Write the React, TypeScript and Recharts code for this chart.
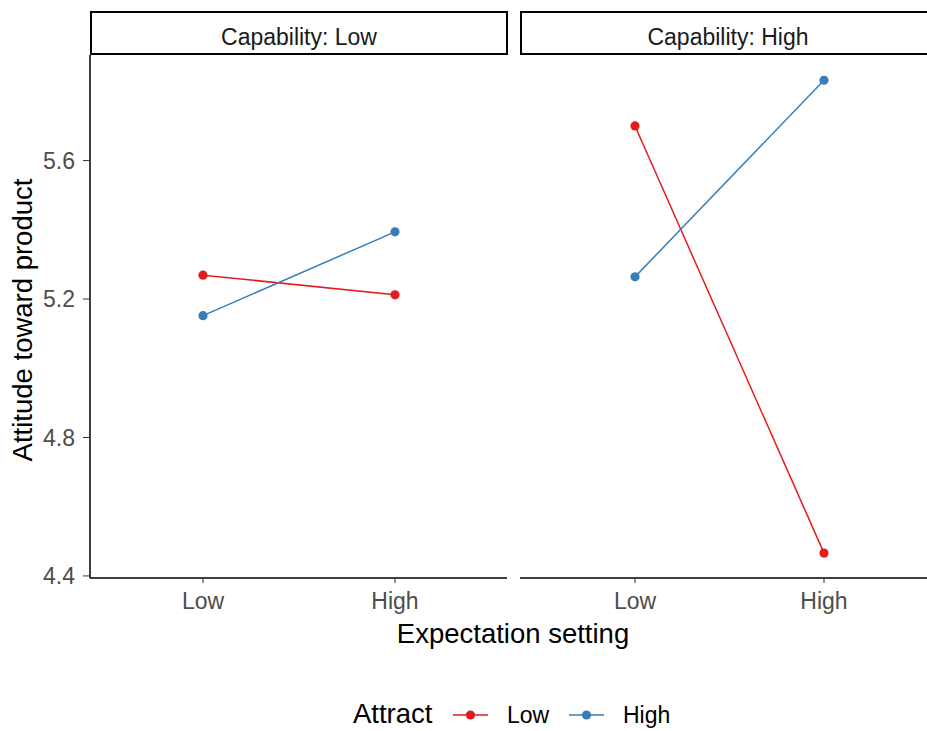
import React from "react";
import { Line, LineChart, XAxis, YAxis } from "recharts";

// categories
const SETTINGS = ["Low", "High"];
const ATTRACT = ["Low", "High"];
const Y_TICKS = [4.4, 4.8, 5.2, 5.6];

// Capability: Low panel
const CAPLOW_ATTRACT_LOW = [5.269, 5.212];
const CAPLOW_ATTRACT_HIGH = [5.152, 5.394];

// Capability: High panel
const CAPHIGH_ATTRACT_LOW = [5.7, 4.466];
const CAPHIGH_ATTRACT_HIGH = [5.264, 5.832];

const RED = "#E41A1C";
const BLUE = "#377EB8";
const FONT = '"Liberation Sans", Arial, sans-serif';
const Y_DOMAIN: [number, number] = [4.394, 5.905];

const buildRows = (low: number[], high: number[]) =>
  SETTINGS.map((s, i) => ({ setting: s, low: low[i], high: high[i] }));

const tickStyle = { fill: "#4d4d4d", fontSize: 23, fontFamily: FONT };

function Panel({
  rows,
  showY,
  width,
  padding,
}: {
  rows: { setting: string; low: number; high: number }[];
  showY: boolean;
  width: number;
  padding: { left: number; right: number };
}) {
  return (
    <LineChart
      width={width}
      height={620}
      data={rows}
      margin={{ top: 55, right: 0, left: 0, bottom: 0 }}
    >
      <XAxis
        dataKey="setting"
        interval={0}
        padding={padding}
        height={42}
        tick={tickStyle}
        tickSize={5}
        tickMargin={10}
        tickLine={{ stroke: "#333" }}
        axisLine={{ stroke: "#000", strokeWidth: 1.5 }}
      />
      <YAxis
        hide={!showY}
        width={90}
        domain={Y_DOMAIN}
        ticks={Y_TICKS}
        allowDataOverflow
        tickFormatter={(v: number) => v.toFixed(1)}
        tick={tickStyle}
        tickSize={7}
        tickMargin={8}
        tickLine={{ stroke: "#333" }}
        axisLine={{ stroke: "#000", strokeWidth: 1.5 }}
      />
      <Line
        dataKey="low"
        stroke={RED}
        strokeWidth={1.5}
        dot={{ r: 4.6, fill: RED, stroke: RED, strokeWidth: 0 }}
        activeDot={false}
        isAnimationActive={false}
      />
      <Line
        dataKey="high"
        stroke={BLUE}
        strokeWidth={1.5}
        dot={{ r: 4.6, fill: BLUE, stroke: BLUE, strokeWidth: 0 }}
        activeDot={false}
        isAnimationActive={false}
      />
    </LineChart>
  );
}

export default function App() {
  return (
    <div
      style={{
        position: "absolute",
        left: 0,
        top: 0,
        width: 927,
        height: 731,
        background: "#fff",
        overflow: "hidden",
        fontFamily: FONT,
      }}
    >
      <div style={{ position: "absolute", left: 0, top: 0 }}>
        <Panel
          rows={buildRows(CAPLOW_ATTRACT_LOW, CAPLOW_ATTRACT_HIGH)}
          showY
          width={507}
          padding={{ left: 113, right: 112 }}
        />
      </div>
      <div style={{ position: "absolute", left: 520, top: 0 }}>
        <Panel
          rows={buildRows(CAPHIGH_ATTRACT_LOW, CAPHIGH_ATTRACT_HIGH)}
          showY={false}
          width={407}
          padding={{ left: 115, right: 103 }}
        />
      </div>
      <svg
        width={927}
        height={731}
        style={{ position: "absolute", left: 0, top: 0, pointerEvents: "none" }}
        fontFamily={FONT}
      >
        {/* facet strips */}
        <rect x={91} y={12} width={416} height={42} fill="#fff" stroke="#000" strokeWidth={2} />
        <text x={299} y={45} textAnchor="middle" fontSize={23} fill="#1a1a1a">
          Capability: Low
        </text>
        <rect x={521} y={12} width={420} height={42} fill="#fff" stroke="#000" strokeWidth={2} />
        <text x={728} y={45} textAnchor="middle" fontSize={23} fill="#1a1a1a">
          Capability: High
        </text>

        {/* axis titles */}
        <text
          x={32}
          y={320}
          textAnchor="middle"
          fontSize={27.5}
          fill="#000"
          transform="rotate(-90 32 320)"
        >
          Attitude toward product
        </text>
        <text x={513} y={643} textAnchor="middle" fontSize={27.5} fill="#000">
          Expectation setting
        </text>

        {/* legend */}
        <text x={353} y={723} fontSize={27.5} fill="#000">
          Attract
        </text>
        <line x1={453} y1={715} x2={488} y2={715} stroke={RED} strokeWidth={1.5} />
        <circle cx={470.5} cy={715} r={4.6} fill={RED} />
        <text x={507} y={723} fontSize={23} fill="#000">
          {ATTRACT[0]}
        </text>
        <line x1={569} y1={715} x2={604} y2={715} stroke={BLUE} strokeWidth={1.5} />
        <circle cx={586.5} cy={715} r={4.6} fill={BLUE} />
        <text x={623} y={723} fontSize={23} fill="#000">
          {ATTRACT[1]}
        </text>
      </svg>
    </div>
  );
}
